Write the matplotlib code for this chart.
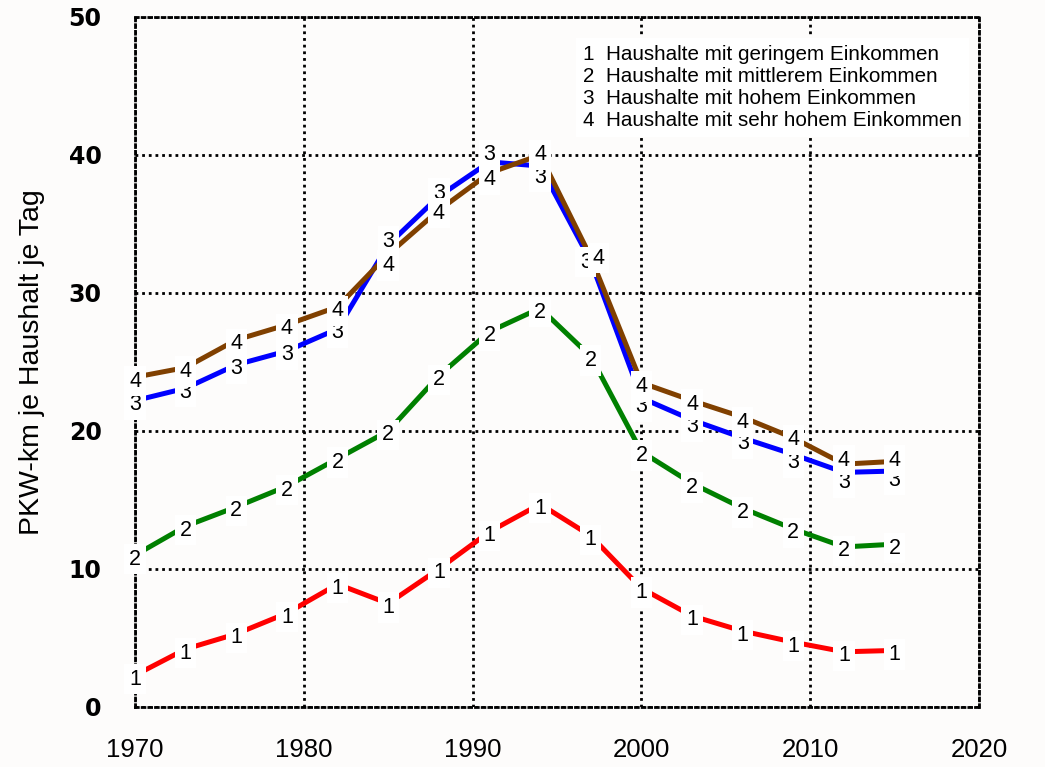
import matplotlib
matplotlib.use("Agg")
import matplotlib.pyplot as plt
from matplotlib.transforms import offset_copy

# ---- data ----
years = [1970, 1973, 1976, 1979, 1982, 1985, 1988, 1991, 1994, 1997,
         2000, 2003, 2006, 2009, 2012, 2015]
s1_low = [2.3, 4.2, 5.3, 6.8, 8.9, 7.5, 10.0, 12.7, 14.7, 12.4,
          8.6, 6.6, 5.5, 4.7, 4.0, 4.1]
s2_mid = [11.0, 13.1, 14.5, 16.0, 18.0, 20.0, 24.0, 27.2, 28.9, 25.4,
          18.5, 16.2, 14.4, 12.9, 11.6, 11.8]
s3_high = [22.2, 23.1, 24.8, 25.8, 27.4, 33.5, 37.0, 39.5, 39.2, 32.3,
           22.4, 20.8, 19.5, 18.3, 17.0, 17.1]
s4_vhigh = [23.9, 24.6, 26.6, 27.7, 29.0, 32.8, 36.0, 38.7, 40.0, 32.6,
            23.5, 22.2, 21.0, 19.5, 17.6, 17.8]
series_ids = ["1", "2", "3", "4"]
legend_names = ["Haushalte mit geringem Einkommen",
                "Haushalte mit mittlerem Einkommen",
                "Haushalte mit hohem Einkommen",
                "Haushalte mit sehr hohem Einkommen"]
x_ticks = [1970, 1980, 1990, 2000, 2010, 2020]
y_ticks = [0, 10, 20, 30, 40, 50]
y_label = "PKW-km je Haushalt je Tag"

# ---- style ----
colors = ["#ff0000", "#008000", "#0000ff", "#804000"]
default_offset = (0, -4)  # pixels, labels sit slightly below the points
label_offsets = {(2, 5): (0, 3), (3, 5): (0, -11),
                 (2, 6): (0, 3), (3, 6): (0, -3),
                 (2, 7): (0, 7), (3, 7): (0, -7),
                 (2, 8): (0, -11), (3, 8): (0, 0),
                 (2, 9): (-5, -1), (3, 9): (8, -1),
                 (2, 10): (0, -9), (3, 10): (0, -4),
                 (2, 11): (0, -7), (3, 11): (0, -4),
                 (2, 12): (0, -6), (3, 12): (0, -5),
                 (2, 13): (0, -8), (3, 13): (0, -2),
                 (2, 14): (0, -10), (3, 14): (0, 4),
                 (2, 15): (0, -9), (3, 15): (0, 1)}

bg = "#fdfcfb"
fig = plt.figure(figsize=(10.45, 7.67), dpi=100, facecolor=bg)
ax = fig.add_axes([135 / 1045, 1 - 707 / 767, (979 - 135) / 1045, (707 - 17) / 767])
ax.set_facecolor(bg)

font = ["Liberation Sans", "DejaVu Sans"]
all_series = [s1_low, s2_mid, s3_high, s4_vhigh]
for i, vals in enumerate(all_series):
    ax.plot(years, vals, color=colors[i], lw=3.6, solid_capstyle="butt",
            zorder=3)
for i, vals in enumerate(all_series):
    for j, (x, y) in enumerate(zip(years, vals)):
        dx, dy = label_offsets.get((i, j), default_offset)
        tr = offset_copy(ax.transData, fig=fig, x=dx * 0.72, y=dy * 0.72,
                         units="points")
        ax.text(x, y, series_ids[i], transform=tr, ha="center", va="center",
                fontsize=15.5, family=font, color="black", zorder=5,
                bbox=dict(boxstyle="square,pad=0.22", fc="white", ec="none"))

ax.set_xlim(1970, 2020)
ax.set_ylim(0, 50)
ax.set_xticks(x_ticks)
ax.set_yticks(y_ticks)
ax.set_xticklabels([str(v) for v in x_ticks], fontsize=18.5, family=font)
ax.set_yticklabels([str(v) for v in y_ticks], fontsize=17,
                   family="DejaVu Sans", fontweight="bold")
ax.tick_params(axis="both", length=0)
ax.tick_params(axis="x", pad=22)
ax.tick_params(axis="y", pad=24)
ax.set_ylabel(y_label, fontsize=20.5, family=font, labelpad=17)

grid_ls = (0, (1.0, 1.4))
ax.grid(True, color="black", linestyle=grid_ls, lw=2.0, zorder=1)
for sp in ax.spines.values():
    sp.set_linestyle(grid_ls)
    sp.set_linewidth(2.0)
    sp.set_color("black")

legend_text = "\n".join(f"{sid}  {name}" for sid, name in zip(series_ids, legend_names))
ax.text((583 - 135) / (979 - 135), 1 - (45 - 17) / (707 - 17), legend_text,
        transform=ax.transAxes, fontsize=14.9, family=font, ha="left",
        va="top", linespacing=1.2, zorder=6,
        bbox=dict(boxstyle="square,pad=0.35", fc="white", ec="none"))

fig.savefig("out.png", dpi=100, facecolor=bg)
